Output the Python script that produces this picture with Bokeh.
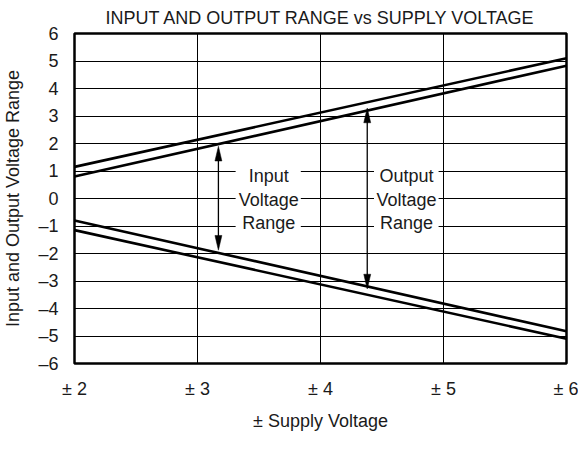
from bokeh.plotting import figure
from bokeh.models import FixedTicker, Title
from bokeh.embed import file_html
from bokeh.resources import INLINE
from bokeh.core.properties import value

# ---- data ----
x_ticks = [2, 3, 4, 5, 6]
x_tick_labels = ["± 2", "± 3", "± 4", "± 5", "± 6"]
y_ticks = [-6, -5, -4, -3, -2, -1, 0, 1, 2, 3, 4, 5, 6]
y_tick_labels = ["–6", "–5", "–4", "–3", "–2", "–1", "0", "1", "2", "3", "4", "5", "6"]

supply = [2, 6]
upper_outer = [1.15, 5.1]
upper_inner = [0.8, 4.83]
lower_inner = [-0.8, -4.83]
lower_outer = [-1.15, -5.1]

arrow_x = [3.17, 4.38]
arrow_top = [1.9, 3.29]
arrow_bottom = [-1.88, -3.29]

label_x = [3.58, 4.70]
label_box_left = [3.31, 4.435]
label_box_right = [3.84, 4.96]
label_rows = ["Input", "Voltage", "Range"]
label_rows_out = ["Output", "Voltage", "Range"]
label_row_y = [0.82, -0.05, -0.9]

FONT = "Liberation Sans"
TXT = "#1a1a1a"

p = figure(width=578, height=433, x_range=(2, 6), y_range=(-6, 6),
           output_backend="svg", toolbar_location=None,
           min_border_left=70, min_border_right=12, min_border_top=32,
           min_border_bottom=65, background_fill_color="white",
           border_fill_color="white")

p.title = Title(text="INPUT AND OUTPUT RANGE vs SUPPLY VOLTAGE", align="center",
                text_font=FONT, text_font_size="18px", text_font_style="normal",
                text_color=TXT, standoff=11)

p.xaxis.ticker = FixedTicker(ticks=x_ticks)
p.yaxis.ticker = FixedTicker(ticks=y_ticks)
p.xaxis.major_label_overrides = dict(zip(x_ticks, x_tick_labels))
p.yaxis.major_label_overrides = dict(zip(y_ticks, y_tick_labels))
for ax in (p.xaxis, p.yaxis):
    ax.axis_line_color = None
    ax.major_tick_line_color = None
    ax.minor_tick_line_color = None
    ax.major_tick_out = 0
    ax.major_tick_in = 0
    ax.minor_tick_out = 0
    ax.major_label_text_font = FONT
    ax.major_label_text_font_size = "18px"
    ax.major_label_text_color = TXT
    ax.axis_label_text_font = FONT
    ax.axis_label_text_font_size = "18px"
    ax.axis_label_text_font_style = "normal"
    ax.axis_label_text_color = TXT
p.xaxis.axis_label = "± Supply Voltage"
p.yaxis.axis_label = "Input and Output Voltage Range"
p.xaxis.major_label_standoff = 15
p.yaxis.major_label_standoff = 16
p.xaxis.axis_label_standoff = 9
p.yaxis.axis_label_standoff = 12

p.xgrid.ticker = FixedTicker(ticks=x_ticks)
p.ygrid.ticker = FixedTicker(ticks=y_ticks)
for g in (p.xgrid, p.ygrid):
    g.grid_line_color = "black"
    g.grid_line_width = 1
    g.grid_line_alpha = 1.0

p.outline_line_color = "black"
p.outline_line_width = 2.5
p.outline_line_alpha = 1.0

# white boxes behind the labels (hide grid lines)
p.quad(left=label_box_left, right=label_box_right, top=[1.35, 1.35],
       bottom=[-1.35, -1.35], fill_color="white", line_color=None)

# range lines
for ys in (upper_outer, upper_inner, lower_inner, lower_outer):
    p.line(supply, ys, line_color="black", line_width=2.6)

# double-headed arrows
px_x = 496 / 4.0
px_y = 336 / 12.0
head_len = 15 / px_y
half_w = 3.5 / px_x
for ax_, t, b in zip(arrow_x, arrow_top, arrow_bottom):
    p.line([ax_, ax_], [t - head_len * 0.5, b + head_len * 0.5],
           line_color="black", line_width=1.3)
p.patches(
    xs=[[ax_, ax_ - half_w, ax_ + half_w] for ax_ in arrow_x] +
       [[ax_, ax_ - half_w, ax_ + half_w] for ax_ in arrow_x],
    ys=[[t, t - head_len, t - head_len] for t in arrow_top] +
       [[b, b + head_len, b + head_len] for b in arrow_bottom],
    fill_color="black", line_color="black", line_width=0.5)

# labels
n = len(label_row_y)
p.text(x=[label_x[0]] * n, y=label_row_y, text=label_rows,
       text_font=value(FONT), text_font_size="18px", text_color=TXT,
       text_align="center", text_baseline="middle")
p.text(x=[label_x[1]] * n, y=label_row_y, text=label_rows_out,
       text_font=value(FONT), text_font_size="18px", text_color=TXT,
       text_align="center", text_baseline="middle")

open("out.html", "w").write(file_html(p, INLINE))
